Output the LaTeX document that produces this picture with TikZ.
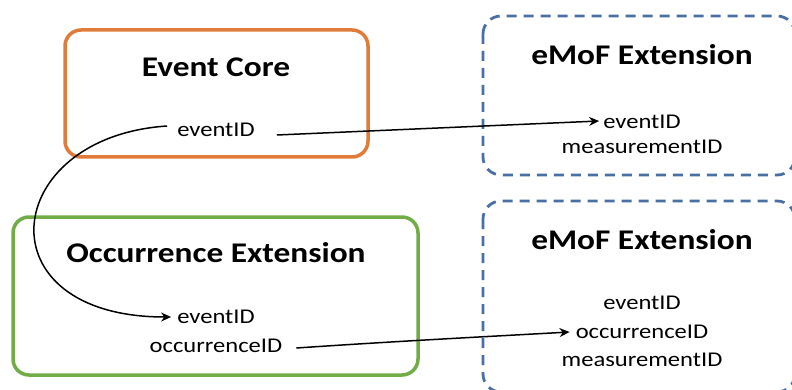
\documentclass[tikz,border=0pt]{standalone}
\usepackage{fontspec}
\setmainfont{Carlito}[FakeStretch=1.17]
\usetikzlibrary{arrows.meta}
\definecolor{corange}{HTML}{E07B3A}
\definecolor{cgreen}{HTML}{70AD47}
\definecolor{cblue}{HTML}{4A6FA5}
\tikzset{
  corebox/.style={draw=corange,line width=3.5pt,rounded corners=16pt},
  occbox/.style={draw=cgreen,line width=3.5pt,rounded corners=16pt},
  emofbox/.style={draw=cblue,line width=2.8pt,rounded corners=18pt,dash pattern=on 10pt off 7pt},
  title/.style={font=\fontsize{28.5}{32}\selectfont\bfseries,inner sep=0pt},
  field/.style={font=\fontsize{21}{24}\selectfont,inner sep=2pt,align=center},
  link/.style={line width=1.5pt,-{Stealth[length=10pt,width=9pt]}}
}
\begin{document}
\begin{tikzpicture}[x=1pt,y=-1pt]
\useasboundingbox (0,0) rectangle (792,390);
\clip (0,0) rectangle (792,390);
\fill[white] (0,0) rectangle (792,390);
% boxes
\draw[corebox] (65,30) rectangle (368,157);
\draw[occbox] (13,217) rectangle (418,375);
\draw[emofbox] (483,16) rectangle (795,175);
\draw[emofbox] (483,201) rectangle (795,392);
% titles
\node[title] (tcore) at (216,67) {Event Core};
\node[title] (tocc) at (216,253) {Occurrence Extension};
\node[title] (temof1) at (642,55) {eMoF Extension};
\node[title] (temof2) at (642,240) {eMoF Extension};
% fields
\node[field] (ceid) at (216,130) {eventID};
\node[field] (m1eid) at (642,122) {eventID};
\node[field] (m1mid) at (642,147) {measurementID};
\node[field] (oeid) at (216,317) {eventID};
\node[field] (ooid) at (216,346) {occurrenceID};
\node[field] (m2eid) at (642,303) {eventID};
\node[field] (m2oid) at (642,332) {occurrenceID};
\node[field] (m2mid) at (642,360) {measurementID};
% connectors
\draw[link] ([xshift=20pt,yshift=-5pt]ceid.east) -- ([xshift=-2pt,yshift=1pt]m1eid.west);
\draw[link] ([xshift=-8pt,yshift=4pt]ceid.west) .. controls (0,137) and (-20,317) .. ([xshift=-4pt]oeid.west);
\draw[link] ([xshift=12pt,yshift=-2pt]ooid.east) .. controls (400,341) and (480,337) .. ([xshift=-4pt]m2oid.west);
\end{tikzpicture}
\end{document}
